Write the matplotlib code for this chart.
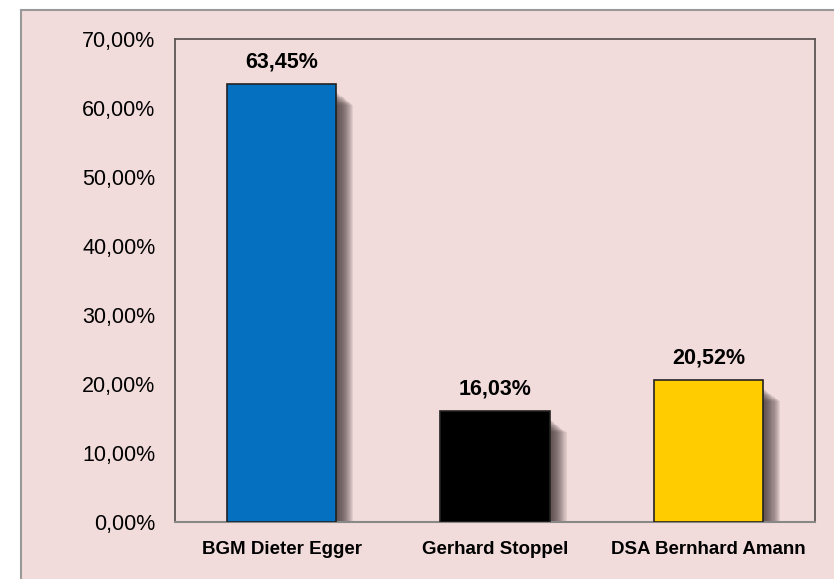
import matplotlib.pyplot as plt
from matplotlib.patches import Rectangle

# Datos del gráfico
candidates = ["BGM Dieter Egger", "Gerhard Stoppel", "DSA Bernhard Amann"]
shares = [63.45, 16.03, 20.52]
colors = ["#0570c0", "#000000", "#ffcc00"]
yticks = [0, 10, 20, 30, 40, 50, 60, 70]

BG = "#f2dcdb"
W, H = 834, 579

fig = plt.figure(figsize=(W / 100, H / 100), dpi=100)
fig.patch.set_facecolor("white")
# fondo rosa con borde gris (derecha y abajo fuera de la imagen)
fig.patches.append(Rectangle((21 / W, -0.1), 1.2, 1.1 - 10 / H, transform=fig.transFigure,
                             facecolor=BG, edgecolor="#999999", linewidth=1.5, zorder=-10))

ax = fig.add_axes([175 / W, 1 - 522 / H, 640 / W, 483 / H])
ax.set_facecolor(BG)

x = list(range(len(candidates)))
width = 0.511

# sombra difusa a la derecha de cada barra
layers = 16
for i in range(layers):
    dx = 0.005 + 0.005 * i
    ax.bar([v + dx for v in x], [s - 1.2 - 0.12 * i for s in shares], width=width,
           color="#3e3030", alpha=0.09, linewidth=0, zorder=1)

ax.bar(x, shares, width=width, color=colors, edgecolor="#222222", linewidth=1.2, zorder=3)

for xi, s in zip(x, shares):
    ax.text(xi, s + 2.45, f"{s:.2f}%".replace(".", ","), ha="center", va="baseline",
            fontsize=15.5, fontweight="bold", family="Liberation Sans")

ax.set_xlim(-0.5, 2.5)
ax.set_ylim(0, 70)
ax.set_yticks(yticks)
ax.set_yticklabels([f"{t:.2f}%".replace(".", ",") for t in yticks],
                   fontsize=15.5, family="Liberation Sans")
ax.set_xticks(x)
ax.set_xticklabels(candidates, fontsize=13.5, fontweight="bold", family="Liberation Sans")
ax.tick_params(axis="both", length=0)
ax.tick_params(axis="y", pad=14)
ax.tick_params(axis="x", pad=14)

for side in ["left", "top", "right"]:
    ax.spines[side].set_color("#5e5555")
    ax.spines[side].set_linewidth(1.3)
ax.spines["bottom"].set_color("#888888")
ax.spines["bottom"].set_linewidth(1.5)

fig.savefig("out.png", dpi=100, facecolor=fig.get_facecolor())
